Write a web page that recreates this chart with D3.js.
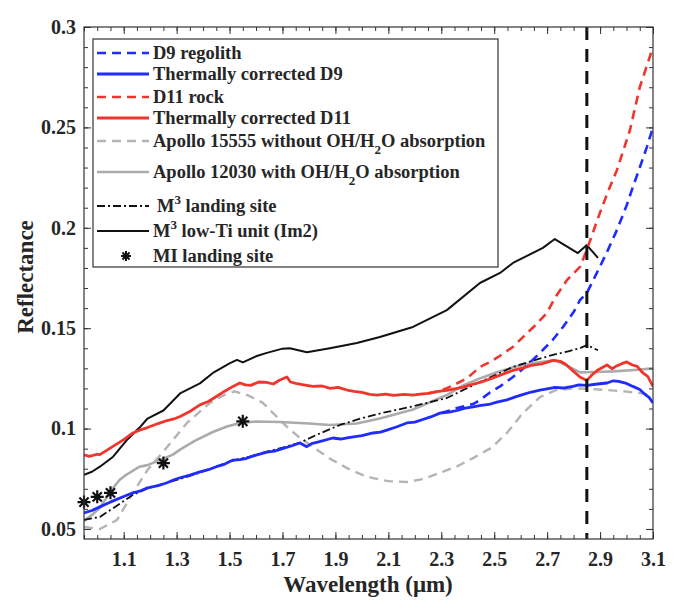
<!DOCTYPE html>
<html><head><meta charset="utf-8">
<script src="https://cdn.jsdelivr.net/npm/d3@7"></script>
<style>
body{margin:0;background:#fff}
svg{display:block}
text{font-family:"Liberation Serif","Times New Roman",serif;font-weight:bold;fill:#262626}
</style>
</head><body>
<svg id="chart" width="680" height="609"></svg>
<script>
// ---------- data (wavelength µm, reflectance) ----------
const d9Regolith = [[2.3,0.1077],[2.36,0.1102],[2.42,0.1122],[2.446,0.1142],[2.484,0.118],[2.522,0.121],[2.571,0.1257],[2.62,0.131],[2.673,0.1377],[2.72,0.144],[2.76,0.1506],[2.8,0.158],[2.824,0.164],[2.85,0.1675],[2.899,0.1805],[2.93,0.189],[2.964,0.199],[3.0,0.211],[3.024,0.2203],[3.05,0.23],[3.077,0.2403],[3.1,0.25]];
const d9Corrected = [[0.95,0.058],[0.98,0.0592],[1.01,0.061],[1.04,0.0628],[1.06,0.064],[1.1,0.0662],[1.135,0.068],[1.16,0.0688],[1.19,0.0705],[1.23,0.0716],[1.264,0.073],[1.29,0.0745],[1.313,0.0755],[1.35,0.0768],[1.388,0.0784],[1.42,0.0795],[1.45,0.081],[1.48,0.0822],[1.513,0.0843],[1.54,0.0845],[1.56,0.085],[1.6,0.0868],[1.641,0.0883],[1.67,0.0888],[1.70,0.090],[1.73,0.0912],[1.766,0.0928],[1.792,0.091],[1.81,0.0925],[1.84,0.0935],[1.89,0.0953],[1.92,0.0948],[1.95,0.0955],[2.0,0.0965],[2.042,0.0978],[2.07,0.0982],[2.10,0.0995],[2.13,0.1008],[2.17,0.1028],[2.2,0.1032],[2.23,0.1045],[2.26,0.1058],[2.295,0.1077],[2.33,0.1082],[2.36,0.109],[2.39,0.1102],[2.42,0.1108],[2.45,0.1115],[2.48,0.112],[2.51,0.1132],[2.548,0.1143],[2.58,0.1158],[2.61,0.117],[2.64,0.1182],[2.673,0.1192],[2.7,0.1198],[2.73,0.1205],[2.76,0.1202],[2.797,0.121],[2.82,0.1218],[2.85,0.1215],[2.89,0.1222],[2.926,0.1227],[2.95,0.1238],[2.97,0.1235],[3.0,0.1225],[3.024,0.121],[3.05,0.1195],[3.07,0.117],[3.085,0.1155],[3.1,0.1128]];
const d11Rock = [[2.25,0.1175],[2.3,0.119],[2.34,0.1212],[2.382,0.124],[2.41,0.1265],[2.446,0.1307],[2.49,0.1335],[2.53,0.137],[2.571,0.1407],[2.62,0.147],[2.66,0.152],[2.699,0.1576],[2.729,0.165],[2.775,0.174],[2.824,0.1805],[2.85,0.189],[2.899,0.2073],[2.93,0.218],[2.964,0.2288],[3.013,0.2487],[3.05,0.27],[3.08,0.282],[3.1,0.29]];
const d11Corrected = [[0.95,0.0869],[0.97,0.0862],[0.98,0.0865],[1.0,0.0872],[1.01,0.087],[1.04,0.0895],[1.07,0.092],[1.1,0.0945],[1.135,0.0978],[1.16,0.0992],[1.19,0.1005],[1.23,0.1025],[1.264,0.104],[1.29,0.1048],[1.313,0.106],[1.35,0.1085],[1.388,0.1118],[1.42,0.1135],[1.45,0.116],[1.48,0.1185],[1.513,0.121],[1.539,0.1227],[1.56,0.1218],[1.58,0.1215],[1.61,0.1232],[1.64,0.123],[1.665,0.1222],[1.69,0.1242],[1.717,0.1257],[1.73,0.1232],[1.75,0.1225],[1.78,0.1218],[1.815,0.121],[1.85,0.1212],[1.88,0.120],[1.91,0.1205],[1.944,0.1192],[1.97,0.1185],[2.0,0.118],[2.03,0.117],[2.057,0.1167],[2.09,0.1172],[2.12,0.1165],[2.16,0.117],[2.193,0.1167],[2.22,0.1172],[2.25,0.1175],[2.29,0.1185],[2.321,0.119],[2.35,0.1198],[2.38,0.1205],[2.41,0.1218],[2.446,0.123],[2.48,0.1245],[2.51,0.126],[2.54,0.1275],[2.571,0.129],[2.61,0.1302],[2.64,0.1315],[2.68,0.1322],[2.722,0.134],[2.75,0.1335],[2.77,0.132],[2.8,0.1285],[2.824,0.1257],[2.85,0.124],[2.87,0.1268],[2.89,0.129],[2.926,0.1317],[2.945,0.1298],[2.96,0.131],[2.98,0.1322],[3.001,0.1332],[3.02,0.1318],[3.04,0.131],[3.062,0.1277],[3.08,0.126],[3.1,0.121]];
const apollo15555 = [[0.95,0.051],[1.01,0.050],[1.075,0.0545],[1.135,0.068],[1.19,0.0794],[1.264,0.0908],[1.339,0.1028],[1.426,0.1128],[1.48,0.1168],[1.52,0.1185],[1.57,0.1165],[1.626,0.1128],[1.67,0.107],[1.717,0.1008],[1.765,0.0955],[1.815,0.0908],[1.88,0.085],[1.944,0.0803],[2.0,0.077],[2.042,0.0753],[2.1,0.0738],[2.17,0.0734],[2.23,0.0748],[2.295,0.078],[2.36,0.0812],[2.42,0.0853],[2.49,0.0905],[2.548,0.0978],[2.608,0.1077],[2.673,0.1157],[2.73,0.119],[2.797,0.120],[2.86,0.1198],[2.926,0.1192],[2.99,0.1185],[3.05,0.1177],[3.1,0.1165]];
const apollo12030 = [[0.95,0.054],[0.98,0.057],[1.01,0.0605],[1.035,0.0655],[1.06,0.0705],[1.085,0.0745],[1.11,0.077],[1.16,0.081],[1.19,0.0818],[1.24,0.0845],[1.286,0.087],[1.313,0.0895],[1.37,0.094],[1.437,0.0983],[1.49,0.101],[1.539,0.1028],[1.60,0.1035],[1.69,0.1033],[1.80,0.1025],[1.879,0.1018],[1.98,0.1025],[2.068,0.105],[2.193,0.1095],[2.321,0.1167],[2.382,0.1215],[2.446,0.125],[2.51,0.128],[2.571,0.1305],[2.64,0.1325],[2.70,0.1335],[2.73,0.134],[2.78,0.131],[2.824,0.128],[2.88,0.1282],[2.949,0.1285],[3.03,0.1292],[3.1,0.130]];
const m3Landing = [[0.95,0.0545],[1.01,0.056],[1.07,0.0612],[1.135,0.067],[1.19,0.0702],[1.25,0.0725],[1.32,0.0752],[1.388,0.078],[1.45,0.0812],[1.513,0.084],[1.58,0.0862],[1.641,0.0885],[1.70,0.0905],[1.766,0.093],[1.84,0.0975],[1.917,0.1018],[1.99,0.1048],[2.068,0.1075],[2.19,0.111],[2.321,0.1152],[2.38,0.119],[2.446,0.1232],[2.51,0.127],[2.571,0.1307],[2.65,0.134],[2.722,0.1367],[2.78,0.1385],[2.824,0.140],[2.85,0.1416],[2.892,0.139]];
const m3LowTi = [[0.95,0.077],[0.98,0.0785],[1.01,0.081],[1.06,0.086],[1.11,0.094],[1.16,0.1005],[1.19,0.105],[1.25,0.109],[1.313,0.1175],[1.388,0.1225],[1.437,0.1277],[1.50,0.1325],[1.528,0.1342],[1.55,0.133],[1.60,0.136],[1.641,0.1377],[1.70,0.1398],[1.728,0.140],[1.792,0.138],[1.879,0.140],[1.981,0.1426],[2.068,0.1456],[2.193,0.1506],[2.321,0.159],[2.446,0.1725],[2.522,0.1775],[2.571,0.1825],[2.684,0.19],[2.729,0.1944],[2.816,0.1874],[2.85,0.1914],[2.892,0.185]];
const miLanding = [[0.95,0.0634],[1.0,0.066],[1.05,0.068],[1.25,0.0828],[1.55,0.1036]];
const markerWavelength = 2.85;

const xMajorTicks = [1.1,1.3,1.5,1.7,1.9,2.1,2.3,2.5,2.7,2.9,3.1];
const xTickLabels = ["1.1","1.3","1.5","1.7","1.9","2.1","2.3","2.5","2.7","2.9","3.1"];
const yMajorTicks = [0.05,0.1,0.15,0.2,0.25,0.3];
const yTickLabels = ["0.05","0.1","0.15","0.2","0.25","0.3"];
const xMinorTicks = d3.range(0,44).map(i=>+(0.95+i*0.05).toFixed(2));
const yMinorTicks = d3.range(0,26).map(i=>+(0.05+i*0.01).toFixed(2));

// ---------- layout ----------
const svg = d3.select("#chart");
const L=84, R=653, T=27, B=539;
const x = d3.scaleLinear().domain([0.95,3.1]).range([L,R]);
const y = d3.scaleLinear().domain([0.045,0.3]).range([B,T]);

const series = [
  {name:"D9 regolith", data:d9Regolith, color:"#1f2bff", width:2.6, dash:"9,6"},
  {name:"Thermally corrected D9", data:d9Corrected, color:"#1f2bff", width:2.8, dash:null},
  {name:"D11 rock", data:d11Rock, color:"#f0362c", width:2.6, dash:"9,6"},
  {name:"Thermally corrected D11", data:d11Corrected, color:"#f0362c", width:2.8, dash:null},
  {name:"Apollo 15555", data:apollo15555, color:"#b4b4b4", width:2.4, dash:"9,6"},
  {name:"Apollo 12030", data:apollo12030, color:"#ababab", width:2.6, dash:null},
  {name:"M3 landing", data:m3Landing, color:"#111", width:1.8, dash:"8,3,2,3"},
  {name:"M3 low-Ti", data:m3LowTi, color:"#111", width:2.0, dash:null}
];

const line = d3.line().x(d=>x(d[0])).y(d=>y(d[1]));
const g = svg.append("g");
g.append("defs").append("clipPath").attr("id","clip").append("rect")
  .attr("x",L).attr("y",T).attr("width",R-L).attr("height",B-T);
const plot = g.append("g").attr("clip-path","url(#clip)");

const drawOrder = [4,5,6,7,0,2,1,3];
drawOrder.forEach(i=>{
  const s=series[i];
  plot.append("path").datum(s.data).attr("d",line)
    .attr("fill","none").attr("stroke",s.color).attr("stroke-width",s.width)
    .attr("stroke-linejoin","round")
    .attr("stroke-dasharray",s.dash);
});

// vertical marker line
plot.append("line").attr("x1",x(markerWavelength)).attr("x2",x(markerWavelength))
  .attr("y1",y(0.3)).attr("y2",y(0.045))
  .attr("stroke","#111").attr("stroke-width",3).attr("stroke-dasharray","13,9");

// stars
function starPath(r){
  let p="";
  for(let k=0;k<4;k++){
    const a=k*Math.PI/4;
    p+=`M${(-r*Math.cos(a)).toFixed(2)},${(-r*Math.sin(a)).toFixed(2)}L${(r*Math.cos(a)).toFixed(2)},${(r*Math.sin(a)).toFixed(2)}`;
  }
  return p;
}
g.selectAll(".star").data(miLanding).join("path").attr("class","star")
  .attr("transform",d=>`translate(${x(d[0])},${y(d[1])})`)
  .attr("d",starPath(6.5)).attr("stroke","#111").attr("stroke-width",2.2).attr("fill","none");

// ---------- axes ----------
function styleAxis(sel){
  sel.select(".domain").remove();
  sel.selectAll("line").attr("stroke","#333").attr("stroke-width",1);
}
const fontTick = 20;
g.append("g").attr("transform",`translate(0,${B})`)
  .call(d3.axisBottom(x).tickValues(xMinorTicks).tickSize(-4).tickFormat(""))
  .call(styleAxis);
g.append("g").attr("transform",`translate(0,${B})`)
  .call(d3.axisBottom(x).tickValues(xMajorTicks).tickSize(-7).tickPadding(13)
    .tickFormat((d,i)=>xTickLabels[i]))
  .call(styleAxis)
  .call(s=>s.selectAll("text").style("font-size",fontTick+"px").attr("fill","#262626")
     .style("font-family",'"Liberation Serif",serif').style("font-weight","bold"));
g.append("g").attr("transform",`translate(0,${T})`)
  .call(d3.axisTop(x).tickValues(xMinorTicks).tickSize(-4).tickFormat(""))
  .call(styleAxis);
g.append("g").attr("transform",`translate(0,${T})`)
  .call(d3.axisTop(x).tickValues(xMajorTicks).tickSize(-7).tickFormat(""))
  .call(styleAxis);
g.append("g").attr("transform",`translate(${L},0)`)
  .call(d3.axisLeft(y).tickValues(yMinorTicks).tickSize(-4).tickFormat(""))
  .call(styleAxis);
g.append("g").attr("transform",`translate(${L},0)`)
  .call(d3.axisLeft(y).tickValues(yMajorTicks).tickSize(-7).tickPadding(8)
    .tickFormat((d,i)=>yTickLabels[i]))
  .call(styleAxis)
  .call(s=>s.selectAll("text").style("font-size",fontTick+"px").attr("fill","#262626")
     .style("font-family",'"Liberation Serif",serif').style("font-weight","bold"));
g.append("g").attr("transform",`translate(${R},0)`)
  .call(d3.axisRight(y).tickValues(yMinorTicks).tickSize(-4).tickFormat(""))
  .call(styleAxis);
g.append("g").attr("transform",`translate(${R},0)`)
  .call(d3.axisRight(y).tickValues(yMajorTicks).tickSize(-7).tickFormat(""))
  .call(styleAxis);
g.append("rect").attr("x",L).attr("y",T).attr("width",R-L).attr("height",B-T)
  .attr("fill","none").attr("stroke","#333").attr("stroke-width",1.2);

// axis titles
g.append("text").attr("x",368).attr("y",592).attr("text-anchor","middle")
  .style("font-size","23px").text("Wavelength (\u03bcm)");
g.append("text").attr("transform",`translate(33,277) rotate(-90)`)
  .attr("text-anchor","middle").style("font-size","23px").text("Reflectance");

// ---------- legend ----------
const lg = g.append("g");
lg.append("rect").attr("x",93).attr("y",39).attr("width",405).attr("height",228)
  .attr("fill","#fff").attr("stroke","#333").attr("stroke-width",1.2);
const legendItems = [
  {s:0, y:53, parts:[["D9 regolith"]]},
  {s:1, y:74, parts:[["Thermally corrected D9"]]},
  {s:2, y:97, parts:[["D11 rock"]]},
  {s:3, y:118, parts:[["Thermally corrected D11"]]},
  {s:4, y:141, parts:[["Apollo 15555 without OH/H"],["2","sub"],["O absorption"]]},
  {s:5, y:172, parts:[["Apollo 12030 with OH/H"],["2","sub"],["O absorption"]]},
  {s:6, y:206, parts:[["M"],["3","sup"],[" landing site"]], dx:4},
  {s:7, y:231, parts:[["M"],["3","sup"],[" low-Ti unit (Im2)"]]},
  {s:-1, y:256, parts:[["MI landing site"]]}
];
legendItems.forEach(it=>{
  if(it.s>=0){
    const s=series[it.s];
    lg.append("line").attr("x1",97).attr("x2",149).attr("y1",it.y).attr("y2",it.y)
      .attr("stroke",s.color).attr("stroke-width",s.width).attr("stroke-dasharray",s.dash);
  } else {
    lg.append("path").attr("transform",`translate(126,${it.y})`).attr("d",starPath(5))
      .attr("stroke","#111").attr("stroke-width",2);
  }
  const t = lg.append("text").attr("x",153+(it.dx||0)).attr("y",it.y+6).style("font-size","18.5px");
  it.parts.forEach((p,i)=>{
    const ts=t.append("tspan").text(p[0]);
    if(p[1]==="sub") ts.attr("dy",7).style("font-size","13px");
    if(p[1]==="sup") ts.attr("dy",-8).style("font-size","13px");
    if(i>0){
      const prev=it.parts[i-1][1];
      if(prev==="sub") ts.attr("dy",-7);
      if(prev==="sup") ts.attr("dy",8);
    }
  });
});
</script>
</body></html>
